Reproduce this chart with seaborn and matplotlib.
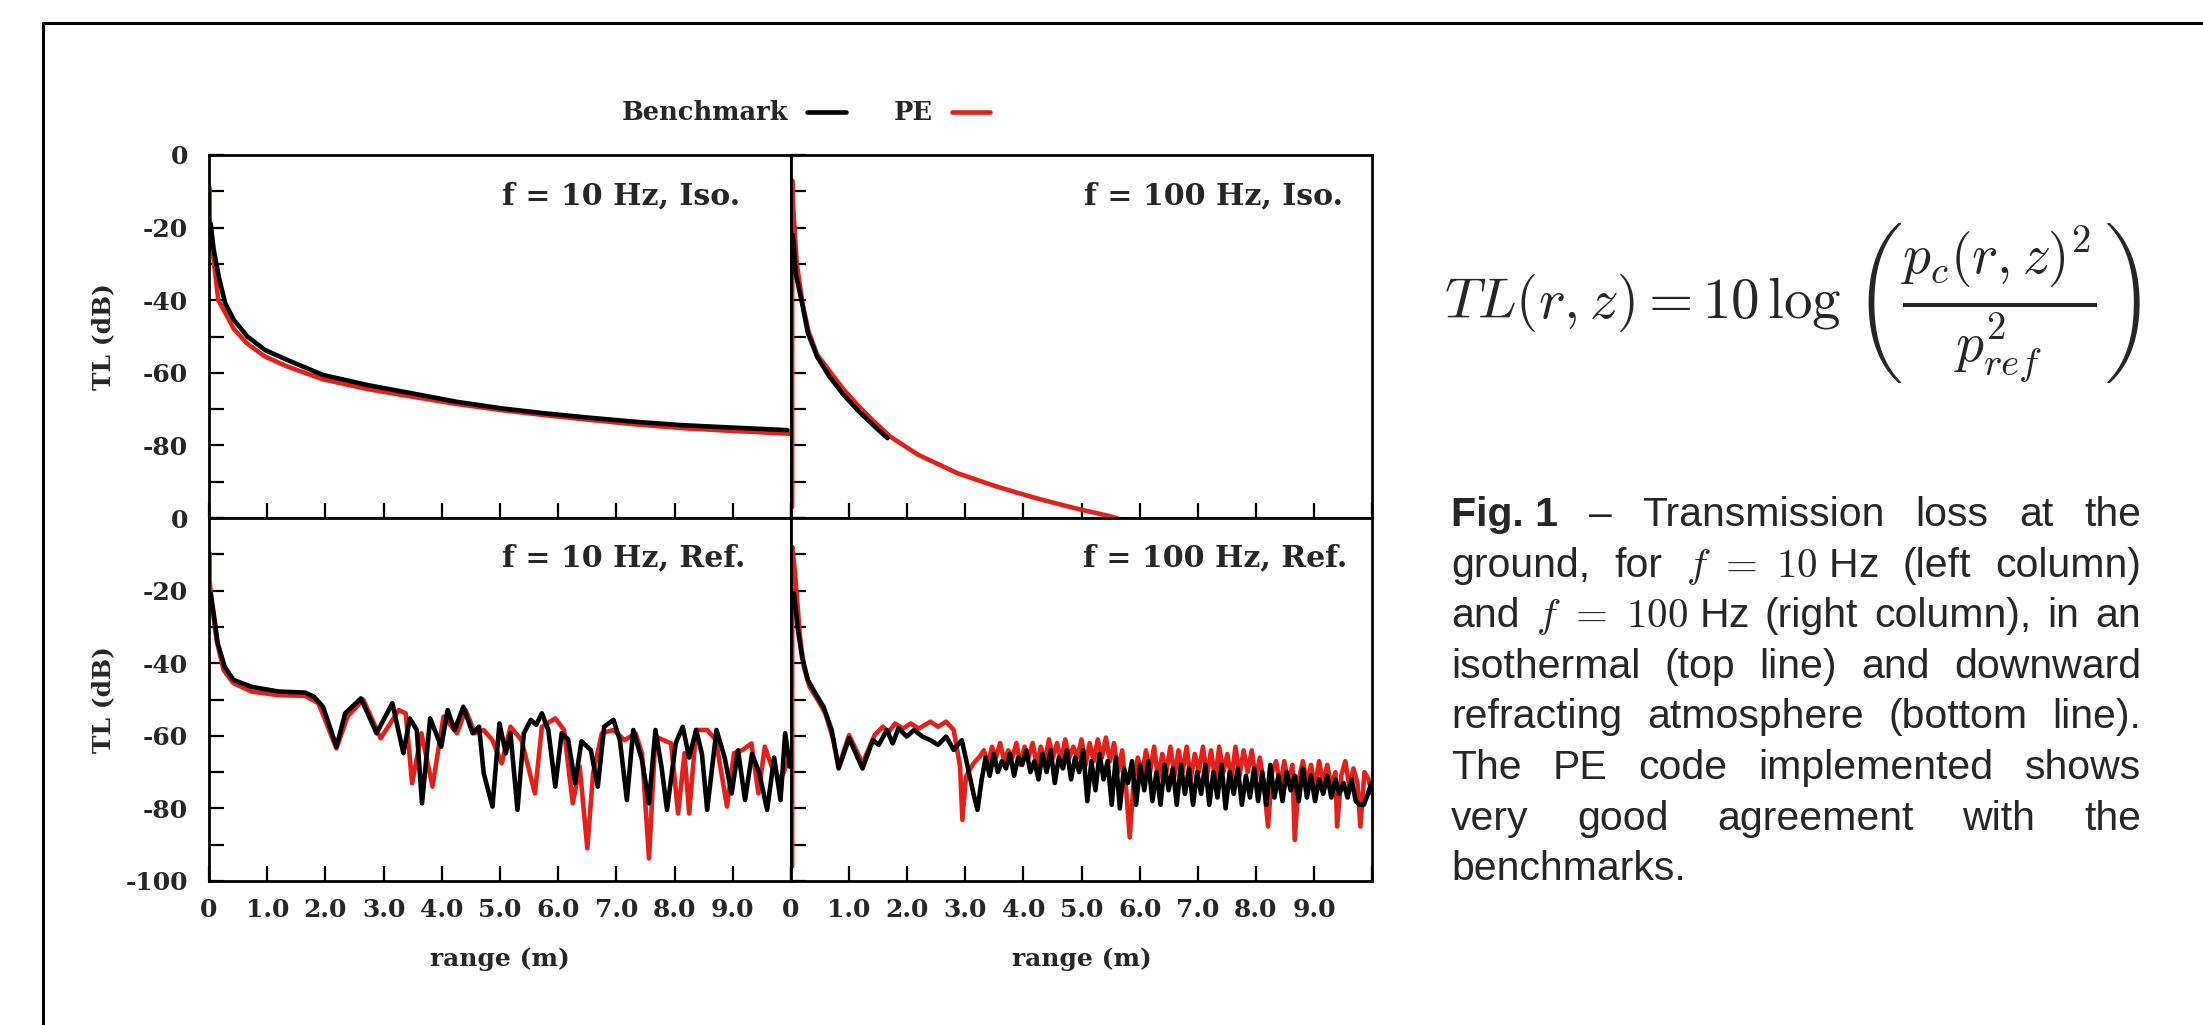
import matplotlib
matplotlib.use("Agg")
import matplotlib.pyplot as plt
from matplotlib.lines import Line2D
from matplotlib import font_manager as fm
import seaborn as sns

# ---------------- data ----------------
# f = 10 Hz, isothermal
r_iso10_bm = [0.03, 0.08, 0.18, 0.28, 0.43, 0.66, 0.96, 1.35, 1.96, 2.73, 3.5, 4.26, 5.03, 5.79, 6.56, 7.33, 8.1, 8.87, 9.94]
tl_iso10_bm = [-19, -26, -34.4, -40.9, -45.5, -50, -53.7, -56.5, -60.6, -63.4, -65.7, -68, -69.8, -71.2, -72.4, -73.5, -74.4, -75.0, -75.8]
r_iso10_pe = [0.01, 0.01, 0.03, 0.08, 0.16, 0.28, 0.43, 0.66, 0.96, 1.35, 1.96, 2.73, 3.5, 4.26, 5.03, 5.79, 6.56, 7.33, 8.1, 8.87, 10.0]
tl_iso10_pe = [-9, -17, -22, -29, -40, -43.5, -48, -52, -55.5, -58.3, -61.8, -64.5, -66.6, -68.6, -70.3, -71.7, -73, -74.2, -75.2, -75.9, -76.8]

# f = 100 Hz, isothermal
r_iso100_bm = [0.03, 0.05, 0.08, 0.18, 0.29, 0.45, 0.66, 0.9, 1.17, 1.44, 1.66]
tl_iso100_bm = [-22, -25.3, -32.6, -40, -49, -55.6, -61, -66, -70.7, -74.8, -78]
r_iso100_pe = [0.02, 0.02, 0.04, 0.1, 0.2, 0.3, 0.45, 0.69, 0.9, 1.17, 1.44, 1.71, 2.19, 2.87, 3.55, 4.23, 4.91, 5.49, 5.7]
tl_iso100_pe = [-97, -7, -15, -30, -41, -48.5, -55, -60.1, -64.5, -69.3, -73.6, -77.6, -82.6, -87.7, -91.4, -94.6, -97.4, -99.5, -100.5]

# f = 10 Hz, downward refracting
r_ref10_bm = [0.03, 0.08, 0.15, 0.27, 0.42, 0.73, 1.19, 1.65, 1.8, 1.96, 2.19, 2.34, 2.61, 2.88, 3.15, 3.34, 3.45, 3.57,
              3.66, 3.8, 3.99, 4.1, 4.22, 4.37, 4.53, 4.64, 4.72, 4.87, 4.99, 5.1, 5.18, 5.3, 5.41, 5.53, 5.62, 5.72,
              5.83, 5.95, 6.06, 6.17, 6.29, 6.4, 6.56, 6.68, 6.79, 6.95, 7.06, 7.18, 7.29, 7.44, 7.56, 7.67, 7.77, 7.87,
              8.02, 8.14, 8.25, 8.37, 8.47, 8.56, 8.72, 8.86, 8.98, 9.09, 9.21, 9.33, 9.45, 9.59, 9.71, 9.82, 9.9, 9.98]
tl_ref10_bm = [-20.8, -26.3, -34.5, -41, -44.6, -46.5, -47.8, -48.1, -49.2, -52, -63, -53.8, -49.7, -59.3, -51, -64.8, -55.2, -58.4,
               -78.6, -55.2, -63, -52.9, -58.4, -52, -59.3, -57.5, -70.3, -79.5, -56.6, -64.8, -59.3, -80.4, -59.3, -55.6, -57, -53.8,
               -58.4, -74, -59.3, -61, -73.1, -61.5, -63.9, -74, -57.5, -55.6, -61.2, -77.7, -58.4, -66.7, -78.6, -58.4, -68, -80.4,
               -62, -57.5, -66, -58.4, -65, -80.4, -58.4, -66, -75.9, -64, -77.7, -65, -70, -80.4, -66, -77.7, -59.3, -68.5]
r_ref10_pe = [0.01, 0.01, 0.04, 0.13, 0.25, 0.42, 0.73, 1.19, 1.65, 1.88, 2.19, 2.38, 2.65, 2.95, 3.26, 3.38, 3.49, 3.65,
              3.84, 4.03, 4.26, 4.41, 4.57, 4.72, 4.87, 5.03, 5.18, 5.37, 5.6, 5.72, 5.95, 6.1, 6.25, 6.37, 6.5, 6.6,
              6.75, 6.95, 7.14, 7.33, 7.44, 7.56, 7.67, 7.94, 8.06, 8.17, 8.25, 8.37, 8.56, 8.71, 8.9, 9.02, 9.17, 9.32,
              9.44, 9.55, 9.67, 9.82, 9.98]
tl_ref10_pe = [-9.7, -17.1, -22.6, -33.6, -41.9, -45.5, -47.8, -48.8, -49, -51, -63.5, -54.7, -50, -60.7, -52.9, -53.8, -73.1, -59.3,
               -74, -54.7, -59.3, -52.9, -59.3, -58.4, -61.2, -67.6, -57.5, -61.2, -75.9, -57.5, -55.2, -58.4, -78.6, -68.5, -91, -70.3,
               -59.3, -58.4, -61.2, -59.3, -64.8, -93.8, -60.2, -62.1, -81.4, -64.8, -81.4, -58.4, -58.4, -61.2, -79.5, -64.8, -63.9, -62.1,
               -75.9, -63, -68.5, -72.2, -65.7]

# f = 100 Hz, downward refracting
r_ref100_bm = [0.05, 0.12, 0.19, 0.29, 0.42, 0.56, 0.7, 0.82, 1.0, 1.23, 1.41, 1.51, 1.65, 1.75, 1.85, 1.99, 2.12, 2.26, 2.4, 2.53,
               2.67, 2.8, 2.94, 3.04, 3.14, 3.21, 3.28,
               3.35, 3.42, 3.49, 3.56, 3.63, 3.7, 3.77, 3.84, 3.91, 3.98, 4.05, 4.12, 4.19, 4.26, 4.33, 4.4, 4.47, 4.54,
               4.61, 4.68, 4.75, 4.82, 4.89, 4.96, 5.03, 5.1, 5.17, 5.24, 5.31, 5.38, 5.45, 5.52, 5.59, 5.66, 5.73, 5.8,
               5.87, 5.94, 6.01, 6.08, 6.15, 6.22, 6.29, 6.36, 6.43, 6.5, 6.57, 6.64, 6.71, 6.78, 6.85, 6.92, 6.99, 7.06,
               7.13, 7.2, 7.27, 7.34, 7.41, 7.48, 7.55, 7.62, 7.69, 7.76, 7.83, 7.9, 7.97, 8.04, 8.11, 8.18, 8.25, 8.32,
               8.39, 8.46, 8.53, 8.6, 8.67, 8.74, 8.81, 8.88, 8.95, 9.02, 9.09, 9.16, 9.23, 9.3, 9.37, 9.44, 9.51, 9.58,
               9.65, 9.72, 9.79, 9.86, 9.93, 9.99]
tl_ref100_bm = [-20.8, -30.9, -38.2, -44.6, -48.3, -52, -58.4, -69, -60.7, -69, -61.2, -62.5, -58.4, -62.1, -57.9, -60.2, -58.4, -60.2, -61.2, -62.5,
                -60.2, -63.9, -61.2, -68.5, -75.9, -80.4, -72.2,
                -66, -71, -65, -70, -67, -69, -65, -71, -66, -68, -64, -70, -67, -72, -65, -70, -64, -73,
                -66, -69, -64, -72, -66, -70, -64, -78, -67, -75, -65, -72, -67, -79, -66, -80, -69, -73,
                -67, -79, -68, -75, -67, -78, -70, -79, -68, -75, -69, -79, -68, -76, -69, -79, -70, -76,
                -68, -79, -70, -77, -68, -80, -70, -76, -69, -79, -71, -77, -69, -78, -70, -79, -68, -77,
                -71, -78, -70, -75, -71, -78, -69, -77, -71, -78, -72, -76, -71, -77, -72, -76, -73, -77,
                -72, -78, -79, -79, -76, -73]
r_ref100_pe = [0.02, 0.02, 0.07, 0.15, 0.22, 0.32, 0.46, 0.59, 0.73, 0.82, 1.0, 1.23, 1.44, 1.58, 1.68, 1.79, 1.93, 2.06, 2.2,
               2.4, 2.53, 2.67, 2.8, 2.91, 2.95, 3.01, 3.14, 3.25,
               3.32, 3.39, 3.46, 3.53, 3.6, 3.67, 3.74, 3.81, 3.88, 3.95, 4.02, 4.09, 4.16, 4.23, 4.3, 4.37, 4.44, 4.51,
               4.58, 4.65, 4.72, 4.79, 4.86, 4.93, 5.0, 5.07, 5.14, 5.21, 5.28, 5.35, 5.42, 5.49, 5.56, 5.63, 5.7, 5.77,
               5.83, 5.9, 5.97, 6.04, 6.11, 6.18, 6.25, 6.32, 6.39, 6.46, 6.53, 6.6, 6.67, 6.74, 6.81, 6.88, 6.95, 7.02,
               7.09, 7.16, 7.23, 7.3, 7.37, 7.44, 7.51, 7.58, 7.65, 7.72, 7.79, 7.86, 7.93, 8.0, 8.07, 8.14, 8.21, 8.28,
               8.35, 8.42, 8.49, 8.56, 8.63,
               8.67, 8.74, 8.81, 8.88, 8.95, 9.02, 9.09, 9.16, 9.23, 9.3, 9.37,
               9.4, 9.47, 9.54, 9.61, 9.68, 9.75, 9.8, 9.87, 9.94, 10.0]
tl_ref100_pe = [-96, -7.9, -15.2, -31.8, -41, -46.5, -50.1, -53.8, -61.2, -68.5, -59.8, -67.6, -59.8, -57.5, -59, -56.6, -58, -56.6, -58,
                -56.1, -57.5, -56.1, -58.4, -68.5, -83.2, -71.3, -67.6, -65.7,
                -64, -68, -63, -66, -62, -67, -64, -66, -62, -68, -63, -66, -62, -68, -63, -67, -61, -66,
                -62, -67, -61, -66, -63, -66, -61, -68, -62, -67, -61, -66, -60.5, -67, -62, -70, -64, -75,
                -88, -72, -66, -71, -64, -70, -63, -72, -65, -70, -63, -71, -64, -70, -63, -72, -65, -70,
                -63, -71, -64, -72, -63, -70, -65, -72, -63, -71, -64, -70, -64, -72, -66, -73, -85, -70,
                -67, -74, -67, -73, -68,
                -88.7, -72, -67, -73, -68, -74, -67, -73, -68, -74, -70,
                -85, -71, -67, -74, -69, -73, -85, -70, -72, -75.9]

panel_titles = ["f = 10 Hz, Iso.", "f = 100 Hz, Iso.", "f = 10 Hz, Ref.", "f = 100 Hz, Ref."]
series_names = ["Benchmark", "PE"]
ytick_vals = [0, -10, -20, -30, -40, -50, -60, -70, -80, -90, -100]
ytick_labels_top = ["0", "", "-20", "", "-40", "", "-60", "", "-80", "", ""]
ytick_labels_bottom = ["0", "", "-20", "", "-40", "", "-60", "", "-80", "", "-100"]
xtick_vals = [0, 1, 2, 3, 4, 5, 6, 7, 8, 9, 10]
xtick_labels = ["0", "1.0", "2.0", "3.0", "4.0", "5.0", "6.0", "7.0", "8.0", "9.0", ""]

caption_lines = [
    [("Fig. 1", "bold"), ("\u2013", "normal"), ("Transmission", "normal"), ("loss", "normal"), ("at", "normal"), ("the", "normal")],
    [("ground,", "normal"), ("for", "normal"), ("$f\\ =\\ 10$ Hz", "normal"), ("(left", "normal"), ("column)", "normal")],
    [("and", "normal"), ("$f\\ =\\ 100$ Hz", "normal"), ("(right", "normal"), ("column),", "normal"), ("in", "normal"), ("an", "normal")],
    [("isothermal", "normal"), ("(top", "normal"), ("line)", "normal"), ("and", "normal"), ("downward", "normal")],
    [("refracting", "normal"), ("atmosphere", "normal"), ("(bottom", "normal"), ("line).", "normal")],
    [("The", "normal"), ("PE", "normal"), ("code", "normal"), ("implemented", "normal"), ("shows", "normal")],
    [("very", "normal"), ("good", "normal"), ("agreement", "normal"), ("with", "normal"), ("the", "normal")],
    [("benchmarks.", "normal")],
]
formula_lhs = r"$TL(r,z) = 10\,\log$"
formula_rhs = r"$\left(\frac{p_c(r,z)^2}{p_{ref}^2}\right)$"

# ---------------- styling ----------------
sns.set_style("white")
plt.rcParams["font.family"] = ["DejaVu Serif"]
plt.rcParams["axes.unicode_minus"] = False
plt.rcParams["mathtext.fontset"] = "cm"

SERIF_FP = fm.FontProperties(family="DejaVu Serif", weight="bold")


def sfp(size):
    p = SERIF_FP.copy()
    p.set_size(size)
    return p


BM_COLOR = "#000000"
PE_COLOR = "#e3211b"
LW = 3.3

W, H = 2203, 1025
fig = plt.figure(figsize=(W / 100, H / 100), dpi=100)


def fx(px):
    return px / W


def fy(py):
    return 1 - py / H


X0, XM, X1 = 209, 791, 1372
Y0, YM, Y1 = 155, 518, 881

ax_tl = fig.add_axes([fx(X0), fy(YM), fx(XM) - fx(X0), fy(Y0) - fy(YM)])
ax_tr = fig.add_axes([fx(XM), fy(YM), fx(X1) - fx(XM), fy(Y0) - fy(YM)])
ax_bl = fig.add_axes([fx(X0), fy(Y1), fx(XM) - fx(X0), fy(YM) - fy(Y1)])
ax_br = fig.add_axes([fx(XM), fy(Y1), fx(X1) - fx(XM), fy(YM) - fy(Y1)])

panels = [
    (ax_tl, r_iso10_bm, tl_iso10_bm, r_iso10_pe, tl_iso10_pe, panel_titles[0], 0.912, 0.887),
    (ax_tr, r_iso100_bm, tl_iso100_bm, r_iso100_pe, tl_iso100_pe, panel_titles[1], 0.950, 0.887),
    (ax_bl, r_ref10_bm, tl_ref10_bm, r_ref10_pe, tl_ref10_pe, panel_titles[2], 0.921, 0.89),
    (ax_br, r_ref100_bm, tl_ref100_bm, r_ref100_pe, tl_ref100_pe, panel_titles[3], 0.957, 0.89),
]

TICK_FS = 18
for ax, rb, tb, rp, tp, title, tx, ty in panels:
    sns.lineplot(x=rp, y=tp, ax=ax, color=PE_COLOR, lw=LW, estimator=None, sort=False, legend=False)
    sns.lineplot(x=rb, y=tb, ax=ax, color=BM_COLOR, lw=LW, estimator=None, sort=False, legend=False)
    ax.set_xlim(0, 10)
    ax.set_ylim(-100, 0)
    ax.set_xlabel("")
    ax.set_ylabel("")
    ax.set_facecolor("white")
    for sp in ax.spines.values():
        sp.set_visible(True)
        sp.set_color("black")
        sp.set_linewidth(2.0)
    ax.set_yticks(ytick_vals)
    ax.set_xticks(xtick_vals)
    ax.tick_params(axis="both", which="both", direction="in", length=11, width=1.6,
                   top=False, right=False, left=True, bottom=True, color="black")
    ax.tick_params(axis="y", pad=15)
    ax.tick_params(axis="x", pad=12)
    ax.text(tx, ty, title, transform=ax.transAxes, ha="right", va="center", fontproperties=sfp(21.6))

ax_tl.set_yticklabels(ytick_labels_top, fontproperties=sfp(TICK_FS))
ax_bl.set_yticklabels(ytick_labels_bottom, fontproperties=sfp(TICK_FS))
ax_tr.tick_params(axis="y", labelleft=False)
ax_br.tick_params(axis="y", labelleft=False)
ax_tl.tick_params(axis="x", labelbottom=False)
ax_tr.tick_params(axis="x", labelbottom=False)
ax_bl.set_xticklabels(xtick_labels, fontproperties=sfp(TICK_FS))
ax_br.set_xticklabels(xtick_labels, fontproperties=sfp(TICK_FS))

# axis labels
for yc in [(Y0 + YM) / 2, (YM + Y1) / 2]:
    fig.text(fx(103), fy(yc), "TL (dB)", rotation=90, ha="center", va="center", fontproperties=sfp(18))
for xc in [(X0 + XM) / 2, (XM + X1) / 2]:
    fig.text(fx(xc), fy(959), "range (m)", ha="center", va="center", fontproperties=sfp(18))

# legend
handles = [Line2D([], [], color=BM_COLOR, lw=LW), Line2D([], [], color=PE_COLOR, lw=LW)]
fig.legend(handles, series_names, ncol=2, markerfirst=False, frameon=False, loc="center",
           bbox_to_anchor=(fx(806), fy(113)), handlelength=1.5, handletextpad=0.75,
           columnspacing=1.85, prop=sfp(18.5))

# outer frame
fig.add_artist(Line2D([fx(43), fx(43)], [fy(23), 0], color="black", lw=2.2, transform=fig.transFigure))
fig.add_artist(Line2D([fx(43), 1], [fy(23), fy(23)], color="black", lw=2.2, transform=fig.transFigure))

renderer = fig.canvas.get_renderer()

# formula (two pieces so the sized parentheses render correctly)
F_LHS = 41
F_RHS = 57
t_lhs = fig.text(fx(1444), fy(318), formula_lhs, fontsize=F_LHS, ha="left", va="baseline")
w_lhs = t_lhs.get_window_extent(renderer).width
t_rhs = fig.text(fx(1444 + w_lhs + 12), fy(303), formula_rhs, fontsize=F_RHS, ha="left", va="center")

# justified caption
CAP_FS = 29.5
cap_x0, cap_x1 = 1451, 2141
cap_base0, cap_dy = 526, 50.6
for i, line in enumerate(caption_lines):
    yb = fy(cap_base0 + i * cap_dy)
    objs = [fig.text(0, yb, tok, fontsize=CAP_FS, fontweight=wt,
                     family=["Liberation Sans", "DejaVu Sans"], ha="left", va="baseline")
            for tok, wt in line]
    widths = [t.get_window_extent(renderer).width for t in objs]
    if len(objs) == 1:
        gap = 0
    else:
        gap = (cap_x1 - cap_x0 - sum(widths)) / (len(objs) - 1)
    x = cap_x0
    for t, w in zip(objs, widths):
        t.set_x(fx(x))
        x += w + gap

fig.savefig("out.png", dpi=100, facecolor="white")
